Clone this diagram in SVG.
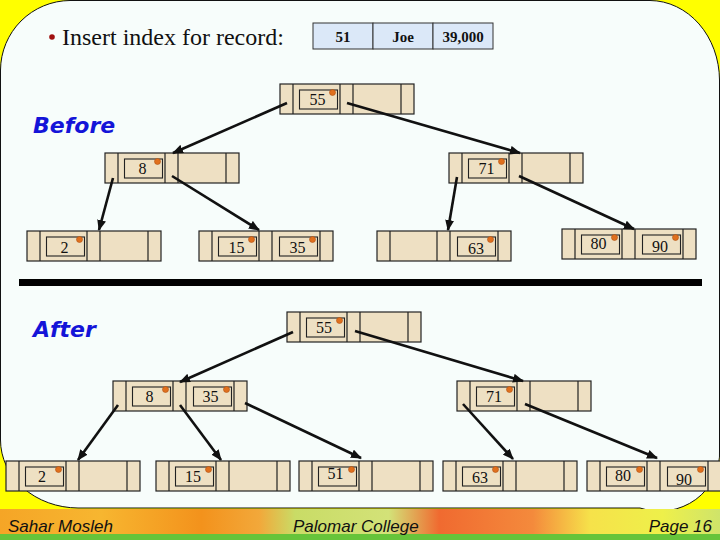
<svg xmlns="http://www.w3.org/2000/svg" xmlns:xlink="http://www.w3.org/1999/xlink" width="720" height="540" viewBox="0 0 720 540">
<style>
.nf{fill:#eee0c3;stroke:#222;stroke-width:1.2}
.nl{fill:none;stroke:#222;stroke-width:1.2}
.kb{fill:none;stroke:#222;stroke-width:1.1}
.dot{fill:#e0701e;stroke:#b05010;stroke-width:0.6}
.kt{font-family:"Liberation Serif","Times New Roman",serif;font-size:16px;fill:#111;text-anchor:middle}
.rt{font-family:"Liberation Serif","Times New Roman",serif;font-size:15px;font-weight:bold;fill:#111;text-anchor:middle}
.ttl{font-family:"DejaVu Sans",sans-serif;font-size:22px;font-weight:bold;font-style:italic;fill:#1414d8}
.ft{font-family:"Liberation Sans",Arial,sans-serif;font-size:17px;font-style:italic;fill:#111}
.cn line{stroke:#111;stroke-width:2.6;marker-end:url(#ah)}
</style>
<defs>
<marker id="ah" markerWidth="11" markerHeight="9" refX="10" refY="4.5" orient="auto" markerUnits="userSpaceOnUse">
<path d="M0,0 L11,4.5 L0,9 z" fill="#111"/>
</marker>
<g id="frame">
<rect x="0" y="0" width="134" height="30" class="nf"/>
<path d="M13,0V30M60,0V30M73,0V30M121,0V30" class="nl"/>
</g>
<g id="k1">
<rect x="19.5" y="6" width="38" height="19" class="kb"/>
<circle cx="52.5" cy="8.5" r="3" class="dot"/>
</g>
<g id="k2">
<rect x="80.5" y="6" width="38" height="19" class="kb"/>
<circle cx="113.5" cy="8.5" r="3" class="dot"/>
</g>
<linearGradient id="band" x1="0" y1="0" x2="1" y2="0">
<stop offset="0" stop-color="#f5a526"/>
<stop offset="0.14" stop-color="#f7b630"/>
<stop offset="0.28" stop-color="#f3921c"/>
<stop offset="0.36" stop-color="#f2a83a"/>
<stop offset="0.41" stop-color="#c9dc66"/>
<stop offset="0.54" stop-color="#d3e278"/>
<stop offset="0.61" stop-color="#f06a30"/>
<stop offset="0.74" stop-color="#f48a3c"/>
<stop offset="0.82" stop-color="#f6e24a"/>
<stop offset="0.92" stop-color="#eef04a"/>
<stop offset="1" stop-color="#cfe46a"/>
</linearGradient>
</defs>

<!-- background -->
<rect x="0" y="0" width="720" height="540" fill="#ffff00"/>
<path d="M70,0.5 H650 A70,80 0 0 1 719.5,80 V450 A60,58 0 0 1 640,508 H78 A78,68 0 0 1 0.5,440 V70 A70,70 0 0 1 70,0.5 Z" fill="#f7fdfb" stroke="#111" stroke-width="1"/>
<rect x="0" y="509" width="720" height="26" fill="url(#band)"/>
<rect x="0" y="534" width="720" height="6" fill="#66c43a"/>

<!-- heading -->
<circle cx="52" cy="37" r="2.8" fill="#a01010"/>
<text x="62" y="45" font-family="'Liberation Serif','Times New Roman',serif" font-size="24" fill="#111">Insert index for record:</text>

<g id="record">
<rect x="313" y="23" width="60" height="26" fill="#dbe8f8" stroke="#333" stroke-width="1"/>
<rect x="373" y="23" width="60" height="26" fill="#dbe8f8" stroke="#333" stroke-width="1"/>
<rect x="433" y="23" width="60" height="26" fill="#dbe8f8" stroke="#333" stroke-width="1"/>
<text class="rt" x="343" y="42" font-weight="normal">51</text>
<text class="rt" x="403" y="42">Joe</text>
<text class="rt" x="463" y="42">39,000</text>
</g>

<text class="ttl" x="33" y="133">Before</text>
<text class="ttl" x="33" y="337">After</text>

<rect x="19" y="279" width="683" height="7" fill="#000"/>

<!-- Before tree -->
<g id="b-root" transform="translate(280,84)"><use xlink:href="#frame"/><use xlink:href="#k1"/><text class="kt" x="37.5" y="21">55</text></g>
<g id="b-8" transform="translate(105,153)"><use xlink:href="#frame"/><use xlink:href="#k1"/><text class="kt" x="37.5" y="21">8</text></g>
<g id="b-71" transform="translate(449,153)"><use xlink:href="#frame"/><use xlink:href="#k1"/><text class="kt" x="37.5" y="21">71</text></g>
<g id="b-2" transform="translate(27,231)"><use xlink:href="#frame"/><use xlink:href="#k1"/><text class="kt" x="37.5" y="22">2</text></g>
<g id="b-15-35" transform="translate(199,231)"><use xlink:href="#frame"/><use xlink:href="#k1"/><use xlink:href="#k2"/><text class="kt" x="37.5" y="22">15</text><text class="kt" x="98.5" y="22">35</text></g>
<g id="b-63" transform="translate(377,231)"><use xlink:href="#frame"/><use xlink:href="#k2"/><text class="kt" x="99" y="23">63</text></g>
<g id="b-80-90" transform="translate(562,229)"><use xlink:href="#frame"/><use xlink:href="#k1"/><use xlink:href="#k2"/><text class="kt" x="36.5" y="20">80</text><text class="kt" x="98" y="23">90</text></g>

<!-- After tree -->
<g id="a-root" transform="translate(287,312)"><use xlink:href="#frame"/><use xlink:href="#k1"/><text class="kt" x="37" y="21">55</text></g>
<g id="a-8-35" transform="translate(113,381)"><use xlink:href="#frame"/><use xlink:href="#k1"/><use xlink:href="#k2"/><text class="kt" x="36.5" y="21">8</text><text class="kt" x="97.5" y="21">35</text></g>
<g id="a-71" transform="translate(457,381)"><use xlink:href="#frame"/><use xlink:href="#k1"/><text class="kt" x="37" y="21">71</text></g>
<g id="a-2" transform="translate(6,461)"><use xlink:href="#frame"/><use xlink:href="#k1"/><text class="kt" x="36" y="21">2</text></g>
<g id="a-15" transform="translate(156,461)"><use xlink:href="#frame"/><use xlink:href="#k1"/><text class="kt" x="37" y="21">15</text></g>
<g id="a-51" transform="translate(299,461)"><use xlink:href="#frame"/><use xlink:href="#k1"/><text class="kt" x="36.5" y="18">51</text></g>
<g id="a-63" transform="translate(443,461)"><use xlink:href="#frame"/><use xlink:href="#k1"/><text class="kt" x="37" y="22">63</text></g>
<g id="a-80-90" transform="translate(587,461)"><use xlink:href="#frame"/><use xlink:href="#k1"/><use xlink:href="#k2"/><text class="kt" x="36" y="20">80</text><text class="kt" x="97" y="24">90</text></g>

<g id="connectors" class="cn">
<line x1="287" y1="103" x2="173" y2="153"/>
<line x1="347" y1="103" x2="520" y2="153"/>
<line x1="113" y1="178" x2="99" y2="230"/>
<line x1="172" y1="176" x2="259" y2="230"/>
<line x1="457" y1="177" x2="448" y2="230"/>
<line x1="519" y1="176" x2="634" y2="229"/>
<line x1="293" y1="332" x2="180" y2="382"/>
<line x1="355" y1="331" x2="523" y2="381"/>
<line x1="118" y1="405" x2="78" y2="460"/>
<line x1="180" y1="405" x2="221" y2="460"/>
<line x1="245" y1="403" x2="361" y2="458"/>
<line x1="463" y1="404" x2="513" y2="459"/>
<line x1="525" y1="404" x2="657" y2="458"/>
</g>

<text class="ft" x="8" y="532">Sahar Mosleh</text>
<text class="ft" x="293" y="532">Palomar College</text>
<text class="ft" x="712" y="532" text-anchor="end">Page 16</text>
</svg>
